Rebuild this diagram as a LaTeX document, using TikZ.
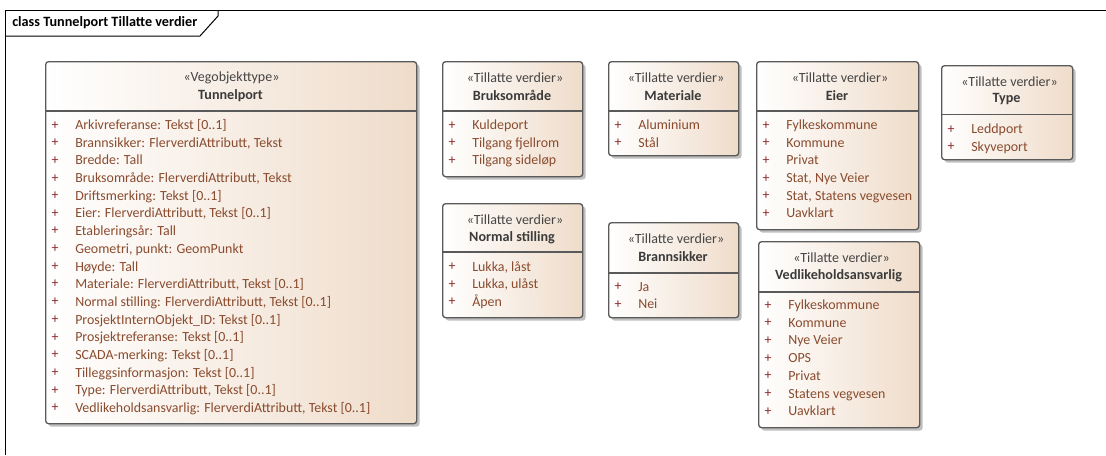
\documentclass[tikz,border=0pt]{standalone}
\usepackage{fontspec}
\setmainfont{Carlito}
\usetikzlibrary{shadows}
\definecolor{itemc}{HTML}{8A4B2E}
\definecolor{plusc}{HTML}{8E2A2A}
\definecolor{edgec}{HTML}{5A5A5A}
\definecolor{headc}{HTML}{454545}
\definecolor{tanmid}{HTML}{FCF7F2}
\definecolor{tanend}{HTML}{EFDCCA}
\tikzset{
  x=0.75pt,y=-0.75pt,
  umlbox/.style={anchor=north west,inner sep=0pt,draw=edgec,line width=1pt,rounded corners=2.2pt,
    left color=white,middle color=tanmid,right color=tanend,
    general shadow={shadow xshift=2.2pt,shadow yshift=-2.2pt,fill=black!25}},
  stereo/.style={inner sep=0pt,text=headc,font=\fontsize{10.5pt}{12pt}\selectfont},
  boxtitle/.style={inner sep=0pt,text=headc!85!black,font=\fontsize{10.6pt}{12pt}\selectfont\bfseries},
  plus/.style={inner sep=0pt,text=plusc,font=\fontsize{10.4pt}{12pt}\selectfont},
  item/.style={anchor=base west,inner sep=0pt,text=itemc,font=\fontsize{10.45pt}{12pt}\selectfont},
  divider/.style={draw=edgec,line width=1pt},
  frameline/.style={draw=black,line width=0.75pt},
  frametitle/.style={anchor=base west,inner sep=0pt,text=black,font=\fontsize{10.65pt}{12pt}\selectfont\bfseries}
}
\newcommand{\stereoshift}{3}
% #1 id, #2 x0, #3 y0, #4 x1, #5 y1, #6 divider y, #7 stereotype, #8 title
\newcommand{\umlclass}[8]{%
  \pgfmathsetmacro{\boxw}{(#4-#2)*0.75}\pgfmathsetmacro{\boxh}{(#5-#3)*0.75}%
  \node[umlbox,minimum width=\boxw pt,minimum height=\boxh pt] (#1) at (#2,#3) {};
  \coordinate (#1-dl) at (#2,#6);
  \coordinate (#1-dr) at (#4,#6);
  \draw[divider] (#1-dl) -- (#1-dr);
  \node[stereo] (#1-s) at ({(#2+#4)/2+\stereoshift},#3+16.5) {«#7»};
  \node[boxtitle] (#1-t) at ({(#2+#4)/2},#3+34.5) {#8};
}
% #1 id, #2 plus x, #3 y centre, #4 text
\newcommand{\umlitem}[4]{%
  \node[plus] (#1-p) at (#2,#3) {+};
  \node[item] (#1) at (#2+20,#3+4.3) {#4};
}
\begin{document}
\begin{tikzpicture}
\useasboundingbox (0,0) rectangle (1106,455);
\fill[white] (0,0) rectangle (1106,455);
% frame
\coordinate (fa) at (5,455);
\coordinate (fb) at (5,10);
\coordinate (fc) at (1106,10);
\coordinate (ta) at (5,36);
\coordinate (tb) at (200,36);
\coordinate (tc) at (218,16);
\coordinate (td) at (218,10);
\draw[frameline] (fa) -- (fb) -- (fc);
\draw[frameline] (ta) -- (tb) -- (tc) -- (td);
\node[frametitle] (ftitle) at (12,26) {class Tunnelport Tillatte verdier};
% Tunnelport
\renewcommand{\stereoshift}{1}
\umlclass{tp}{45}{61}{416}{423}{111}{Vegobjekttype}{Tunnelport}
\renewcommand{\stereoshift}{3}
\umlitem{tp1}{55}{125.5}{Arkivreferanse: Tekst [0..1]}
\umlitem{tp2}{55}{143}{Brannsikker: FlerverdiAttributt, Tekst}
\umlitem{tp3}{55}{160.5}{Bredde: Tall}
\umlitem{tp4}{55}{178.5}{Bruksområde: FlerverdiAttributt, Tekst}
\umlitem{tp5}{55}{196}{Driftsmerking: Tekst [0..1]}
\umlitem{tp6}{55}{213.5}{Eier: FlerverdiAttributt, Tekst [0..1]}
\umlitem{tp7}{55}{231}{Etableringsår: Tall}
\umlitem{tp8}{55}{249}{Geometri, punkt: GeomPunkt}
\umlitem{tp9}{55}{267}{Høyde: Tall}
\umlitem{tp10}{55}{284}{Materiale: FlerverdiAttributt, Tekst [0..1]}
\umlitem{tp11}{55}{302}{Normal stilling: FlerverdiAttributt, Tekst [0..1]}
\umlitem{tp12}{55}{320}{ProsjektInternObjekt\_ID: Tekst [0..1]}
\umlitem{tp13}{55}{337.5}{Prosjektreferanse: Tekst [0..1]}
\umlitem{tp14}{55}{355}{SCADA-merking: Tekst [0..1]}
\umlitem{tp15}{55}{373}{Tilleggsinformasjon: Tekst [0..1]}
\umlitem{tp16}{55}{390.5}{Type: FlerverdiAttributt, Tekst [0..1]}
\umlitem{tp17}{55}{408}{Vedlikeholdsansvarlig: FlerverdiAttributt, Tekst [0..1]}
% Bruksomrade
\umlclass{br}{442}{61}{582}{176}{111}{Tillatte verdier}{Bruksområde}
\umlitem{br1}{452}{125.5}{Kuldeport}
\umlitem{br2}{452}{143}{Tilgang fjellrom}
\umlitem{br3}{452}{160.5}{Tilgang sideløp}
% Materiale
\umlclass{ma}{608}{61}{738}{155}{111}{Tillatte verdier}{Materiale}
\umlitem{ma1}{618}{125.5}{Aluminium}
\umlitem{ma2}{618}{143}{Stål}
% Eier
\umlclass{ei}{756}{61}{918}{229}{111}{Tillatte verdier}{Eier}
\umlitem{ei1}{766}{125.5}{Fylkeskommune}
\umlitem{ei2}{766}{143}{Kommune}
\umlitem{ei3}{766}{160.5}{Privat}
\umlitem{ei4}{766}{178.5}{Stat, Nye Veier}
\umlitem{ei5}{766}{196}{Stat, Statens vegvesen}
\umlitem{ei6}{766}{213.5}{Uavklart}
% Type
\umlclass{ty}{941}{65}{1072}{159}{114.5}{Tillatte verdier}{Type}
\umlitem{ty1}{951}{129.5}{Leddport}
\umlitem{ty2}{951}{147}{Skyveport}
% Normal stilling
\umlclass{ns}{442}{203}{582}{317}{252}{Tillatte verdier}{Normal stilling}
\umlitem{ns1}{452}{267}{Lukka, låst}
\umlitem{ns2}{452}{284.5}{Lukka, ulåst}
\umlitem{ns3}{452}{302}{Åpen}
% Brannsikker
\umlclass{bs}{608}{222}{738}{317}{273}{Tillatte verdier}{Brannsikker}
\umlitem{bs1}{618}{287}{Ja}
\umlitem{bs2}{618}{304.5}{Nei}
% Vedlikeholdsansvarlig
\umlclass{ve}{758}{241}{919}{427}{292}{Tillatte verdier}{Vedlikeholdsansvarlig}
\umlitem{ve1}{768}{305.5}{Fylkeskommune}
\umlitem{ve2}{768}{323}{Kommune}
\umlitem{ve3}{768}{340.5}{Nye Veier}
\umlitem{ve4}{768}{358.5}{OPS}
\umlitem{ve5}{768}{376}{Privat}
\umlitem{ve6}{768}{394}{Statens vegvesen}
\umlitem{ve7}{768}{411.5}{Uavklart}
\end{tikzpicture}
\end{document}
